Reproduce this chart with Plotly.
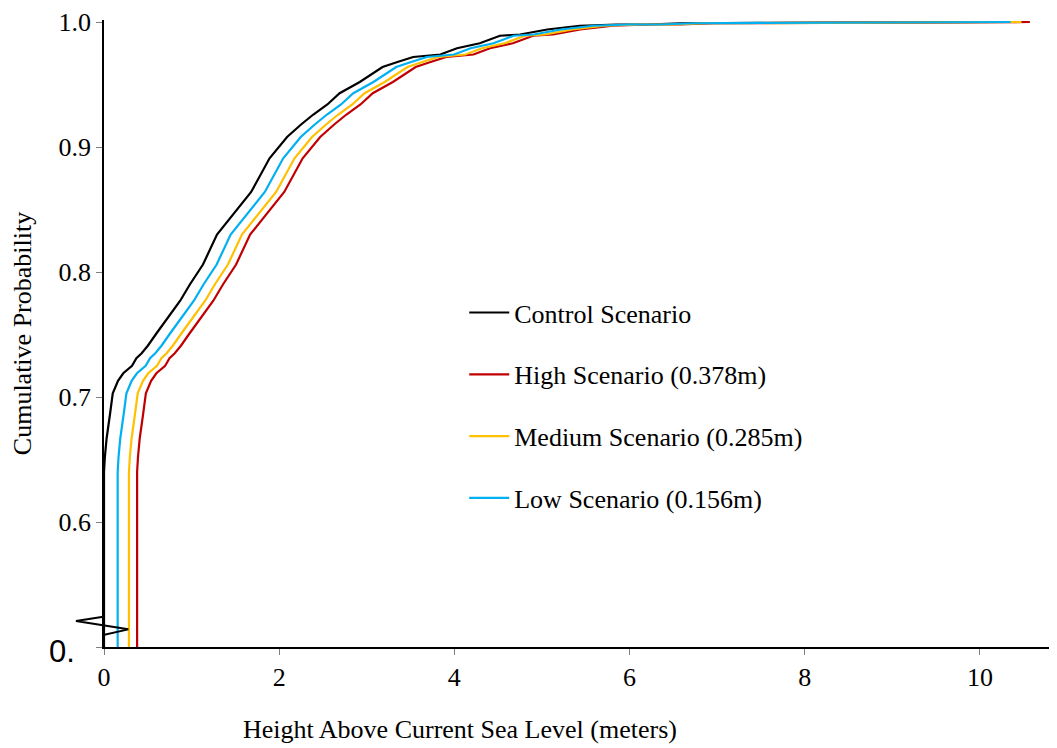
import plotly.graph_objects as go

# Control scenario
control_x = [0, 0, 0.01, 0.03, 0.07, 0.10, 0.16, 0.22, 0.32, 0.37, 0.43, 0.50, 0.60, 0.75, 0.87,
             0.98, 1.13, 1.29, 1.44, 1.59, 1.68, 1.89, 2.09, 2.25, 2.39, 2.55, 2.69, 2.92, 3.18,
             3.35, 3.53, 3.84, 4.03, 4.29, 4.52, 4.75, 5.06, 5.43, 5.85, 6.20, 6.58, 10.19]
control_y = [0.50, 0.64, 0.652, 0.667, 0.687, 0.703, 0.713, 0.719, 0.725, 0.731, 0.735, 0.741, 0.751,
             0.766, 0.777, 0.790, 0.806, 0.830, 0.843, 0.856, 0.864, 0.891, 0.908, 0.918, 0.926,
             0.934, 0.943, 0.952, 0.964, 0.968, 0.972, 0.974, 0.979, 0.983, 0.989, 0.990, 0.994,
             0.997, 0.998, 0.998, 0.999, 1.0]

high_x = [0.378, 0.378, 0.388, 0.408, 0.448, 0.478, 0.538, 0.598, 0.698, 0.748, 0.808, 0.878, 0.978,
          1.128, 1.248, 1.358, 1.508, 1.668, 1.818, 1.968, 2.058, 2.268, 2.468, 2.628, 2.768,
          2.928, 3.068, 3.298, 3.558, 3.728, 3.908, 4.218, 4.408, 4.668, 4.898, 5.128, 5.438,
          5.808, 6.228, 6.578, 6.958, 10.57]
high_y = control_y

medium_x = [0.285, 0.285, 0.295, 0.315, 0.355, 0.385, 0.445, 0.505, 0.605, 0.655, 0.715, 0.785,
            0.885, 1.035, 1.155, 1.265, 1.415, 1.575, 1.725, 1.875, 1.965, 2.175, 2.375, 2.535,
            2.675, 2.835, 2.975, 3.205, 3.465, 3.635, 3.815, 4.125, 4.315, 4.575, 4.805, 5.035,
            5.345, 5.715, 6.135, 6.485, 6.865, 10.475]
medium_y = control_y

low_x = [0.156, 0.156, 0.166, 0.186, 0.226, 0.256, 0.316, 0.376, 0.476, 0.526, 0.586, 0.656, 0.756,
         0.906, 1.026, 1.136, 1.286, 1.446, 1.596, 1.746, 1.836, 2.046, 2.246, 2.406, 2.546,
         2.706, 2.846, 3.076, 3.336, 3.506, 3.686, 3.996, 4.186, 4.446, 4.676, 4.906, 5.216,
         5.586, 6.006, 6.356, 6.736, 10.35]
low_y = control_y

names = ["Control Scenario", "High Scenario (0.378m)", "Medium Scenario (0.285m)", "Low Scenario (0.156m)"]
colors = ["#000000", "#C00000", "#FFC000", "#00B0F0"]
xs = [control_x, high_x, medium_x, low_x]
ys = [control_y, high_y, medium_y, low_y]

x_ticks = [0, 2, 4, 6, 8, 10]
y_ticks = [0.5, 0.6, 0.7, 0.8, 0.9, 1.0]
y_ticktext = ["", "0.6", "0.7", "0.8", "0.9", "1.0"]

FONT = "Liberation Serif"
FS = 26

fig = go.Figure()
for i in range(4):
    fig.add_trace(go.Scatter(x=xs[i], y=ys[i], mode="lines", name=names[i],
                             line=dict(color=colors[i], width=2.2),
                             legendgroup=str(i)))

fig.update_layout(
    width=1049, height=740,
    margin=dict(l=96, r=0, t=10, b=101),
    paper_bgcolor="white", plot_bgcolor="white",
    font=dict(family=FONT, size=FS, color="black"),
    showlegend=True,
    legend=dict(x=0.378, y=0.385, xanchor="left", yanchor="middle",
                bgcolor="rgba(0,0,0,0)", font=dict(family=FONT, size=FS),
                tracegroupgap=25, itemwidth=40),
    xaxis=dict(range=[0, 10.88], tickvals=x_ticks, ticks="outside", ticklen=6,
               tickcolor="#808080", showline=True, linecolor="black", linewidth=1.5,
               showgrid=False, zeroline=False, tickfont=dict(family=FONT, size=FS),
               ticklabeloverflow="allow"),
    yaxis=dict(range=[0.5, 1.0016], tickvals=y_ticks, ticktext=y_ticktext,
               ticks="outside", ticklen=6, tickcolor="#808080",
               showline=True, linecolor="black", linewidth=1.5,
               showgrid=False, zeroline=False, tickfont=dict(family=FONT, size=FS),
               ticklabeloverflow="allow",
               title=dict(text="Cumulative Probability", font=dict(family=FONT, size=FS),
                          standoff=22)),
)

fig.add_annotation(text="Height Above Current Sea Level (meters)", xref="paper", yref="paper",
                   x=(460 - 104) / 953, y=-(730 - 647) / 629, xanchor="center", yanchor="middle",
                   showarrow=False, font=dict(family=FONT, size=FS))
fig.add_annotation(text="0.", xref="paper", yref="paper",
                   x=(62 - 104) / 953, y=-(652 - 647) / 629, xanchor="center", yanchor="middle",
                   showarrow=False, font=dict(family="Liberation Sans", size=31))

# axis break marker
def px(p):
    return (p - 104) / 953
def py(p):
    return (647 - p) / 629
path = "M {} {} L {} {} L {} {} L {} {}".format(px(103.3), py(616.7), px(76), py(621),
                                                  px(128.3), py(629.3), px(103.3), py(635))
fig.add_shape(type="path", path=path, xref="paper", yref="paper",
              line=dict(color="black", width=2))

fig.write_html("out.html")
